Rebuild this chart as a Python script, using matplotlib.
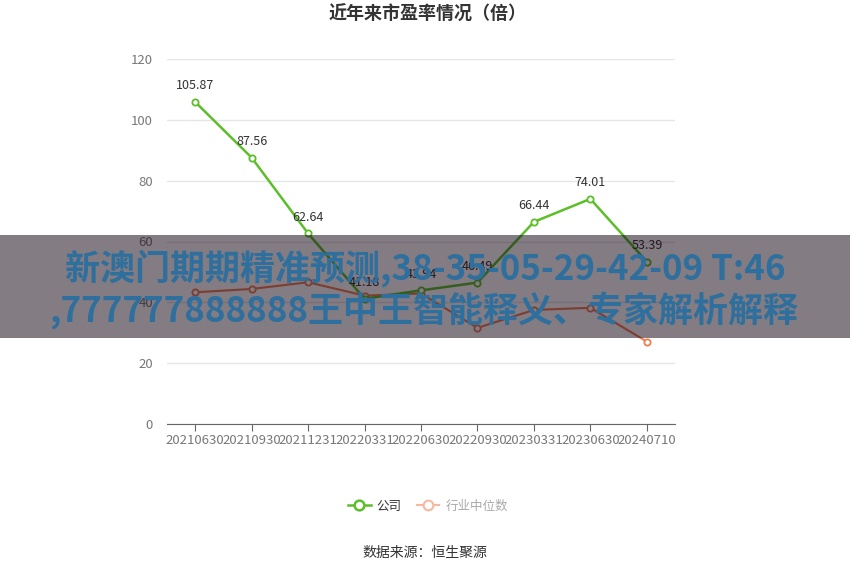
import matplotlib
matplotlib.use("Agg")
import matplotlib.pyplot as plt
from matplotlib.patches import Rectangle
from matplotlib.lines import Line2D

plt.rcParams['font.family'] = ['Noto Sans CJK SC', 'DejaVu Sans']

categories = ["20210630", "20210930", "20211231", "20220331", "20220630",
              "20220930", "20230331", "20230630", "20240710"]
company = [105.87, 87.56, 62.64, 41.18, 43.94, 46.49, 66.44, 74.01, 53.39]
industry = [43.3, 44.4, 46.6, 42.2, 42.9, 31.6, 37.5, 38.2, 27.1]
yticks = [0, 20, 40, 60, 80, 100, 120]

title = "近年来市盈率情况（倍）"
source = "数据来源：恒生聚源"
banner1 = "新澳门期期精准预测,38-35-05-29-42-09 T:46"
banner2 = ",777777888888王中王智能释义、专家解析解释"

green = "#5cbf2a"
orange = "#ef7e52"

W, H = 850, 575
fig = plt.figure(figsize=(W / 100, H / 100), dpi=100)
ax = fig.add_axes([167 / W, 1 - 424 / H, (675 - 167) / W, (424 - 59) / H])

x = list(range(len(categories)))
ax.plot(x, industry, color=orange, lw=1.5, marker='o', ms=4.5,
        mfc='white', mec=orange, mew=1.3, zorder=3)
ax.plot(x, company, color=green, lw=1.8, marker='o', ms=4.5,
        mfc='white', mec=green, mew=1.3, zorder=4)
for xi, v in zip(x, company):
    ax.annotate(f"{v:.2f}", (xi, v), xytext=(0, 7), textcoords='offset points',
                ha='center', va='bottom', fontsize=9, color='#333333', zorder=5)

ax.set_xlim(-0.5, len(categories) - 0.5)
ax.set_ylim(0, 120)
ax.set_yticks(yticks)
ax.set_xticks(x)
ax.set_xticklabels(categories)
ax.tick_params(axis='y', length=0, labelsize=9.5, labelcolor='#777777', pad=10)
ax.tick_params(axis='x', length=5, color='#666666', labelsize=9.5,
               labelcolor='#777777', pad=2)
ax.grid(axis='y', color='#e6e6e6', lw=1)
ax.set_axisbelow(True)
for s in ['top', 'right', 'left']:
    ax.spines[s].set_visible(False)
ax.spines['bottom'].set_color('#666666')

fig.text(428 / W, 1 - 14 / H, title, ha='center', va='center', fontsize=13,
         fontweight='bold', color='#333333')

handles = [
    Line2D([], [], color=green, lw=1.8, marker='o', ms=7, mfc='white',
           mec=green, mew=1.8),
    Line2D([], [], color='#f7b8a0', lw=1.5, marker='o', ms=7, mfc='white',
           mec='#f7b8a0', mew=1.5),
]
leg = fig.legend(handles, ["公司", "行业中位数"], loc='center',
                 bbox_to_anchor=(428 / W, 1 - 506 / H), ncol=2, frameon=False,
                 fontsize=9, handlelength=1.8, columnspacing=1.2,
                 handletextpad=0.5)
leg.get_texts()[0].set_color('#333333')
leg.get_texts()[1].set_color('#aaaaaa')

fig.text(425 / W, 1 - 553 / H, source, ha='center', va='center',
         fontsize=10, color='#333333')

fig.patches.append(Rectangle((0, 1 - 338 / H), 1, (338 - 235) / H,
                             transform=fig.transFigure, facecolor='#120412',
                             edgecolor='none', lw=0, alpha=0.52, zorder=10))
fig.text(425 / W, 1 - 268 / H, banner1, ha='center', va='center',
         fontsize=25.2, fontweight='bold', color='#2f6f9d', zorder=11)
fig.text(424 / W, 1 - 311 / H, banner2, ha='center', va='center',
         fontsize=25.2, fontweight='bold', color='#2f6f9d', zorder=11)

fig.savefig("out.png", dpi=100)
